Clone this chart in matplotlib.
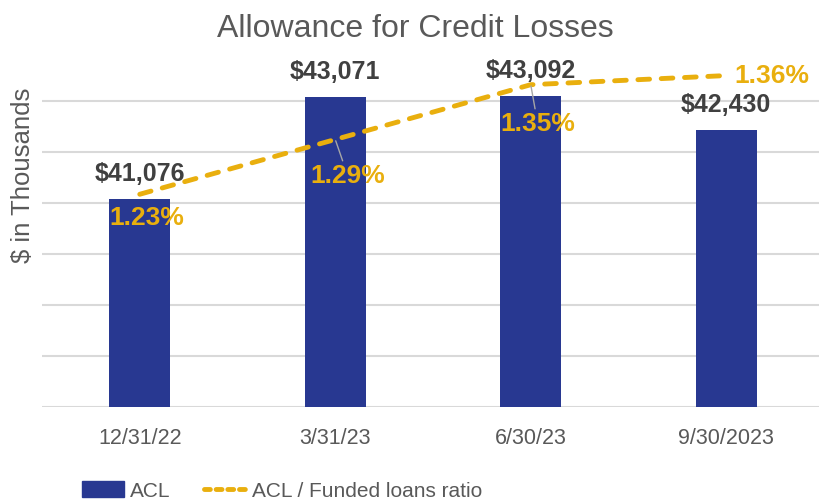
import matplotlib
matplotlib.use("Agg")
import matplotlib.pyplot as plt
from matplotlib.patches import Patch
from matplotlib.lines import Line2D

categories = ["12/31/22", "3/31/23", "6/30/23", "9/30/2023"]
acl = [41076, 43071, 43092, 42430]
ratio = [1.23, 1.29, 1.35, 1.36]
acl_labels = ["$41,076", "$43,071", "$43,092", "$42,430"]
ratio_labels = ["1.23%", "1.29%", "1.35%", "1.36%"]

plt.rcParams['font.family'] = ['Liberation Sans', 'DejaVu Sans']

blue = '#283891'
gold = '#E9AF0E'
grey_text = '#595959'
dark_text = '#404040'

fig = plt.figure(figsize=(8.19, 5), dpi=100)
ax = fig.add_axes([42 / 819, 93 / 500, 782 / 819, 357 / 500])
x = list(range(len(categories)))

ax.bar(x, acl, width=0.31, color=blue, zorder=2)
ax.set_ylim(37000, 44000)
ax.set_yticks(range(37000, 44000, 1000))
ax.set_yticklabels([])
ax.grid(axis='y', color='#d9d9d9', lw=1.5, zorder=0)
ax.set_xlim(-0.5, 3.5)
ax.set_xticks(x)
ax.set_xticklabels(categories, fontsize=15.5, color=grey_text)
ax.tick_params(length=0, pad=15)
for s in ax.spines.values():
    s.set_visible(False)

for i, v in enumerate(acl):
    ax.annotate(acl_labels[i], (i, v), xytext=(0, 18), textcoords='offset points',
                ha='center', va='center', fontsize=18, fontweight='bold', color=dark_text)

ax2 = ax.twinx()
ax2.set_ylim(0.997, 1.388)
ax2.axis('off')
ax2.plot(x, ratio, color=gold, lw=3.5, dashes=(2.4, 2.4), dash_capstyle='round',
         label='ACL / Funded loans ratio', zorder=3)

offsets = [(5, -17), (9, -26), (5, -28), (33, 0)]
leaders = [False, True, True, False]
for i, r in enumerate(ratio):
    kw = {}
    if leaders[i]:
        kw['arrowprops'] = dict(arrowstyle='-', color='#a6a6a6', lw=1, shrinkA=0, shrinkB=1)
    ax2.annotate(ratio_labels[i], (i, r), xytext=offsets[i], textcoords='offset points',
                 ha='center', va='center', fontsize=19, fontweight='bold', color=gold, **kw)

fig.text(415 / 819, 1 - 37 / 500, "Allowance for Credit Losses", ha='center', va='baseline',
         fontsize=23, color=grey_text)
fig.text(23 / 819, 1 - 175 / 500, "$ in Thousands", rotation=90, ha='center', va='center',
         fontsize=18.5, color=grey_text)

handles = [Patch(color=blue, label='ACL'),
           Line2D([0], [0], color=gold, lw=3.5, dashes=(1.2, 1.2), dash_capstyle='round',
                  label='ACL / Funded loans ratio')]
fig.legend(handles=handles, loc='center', bbox_to_anchor=(282 / 819, 9 / 500), ncol=2,
           frameon=False, prop={'size': 15}, labelcolor=grey_text,
           handlelength=2.0, handleheight=0.8, columnspacing=1.6, handletextpad=0.3)

fig.savefig('out.png', dpi=100)
